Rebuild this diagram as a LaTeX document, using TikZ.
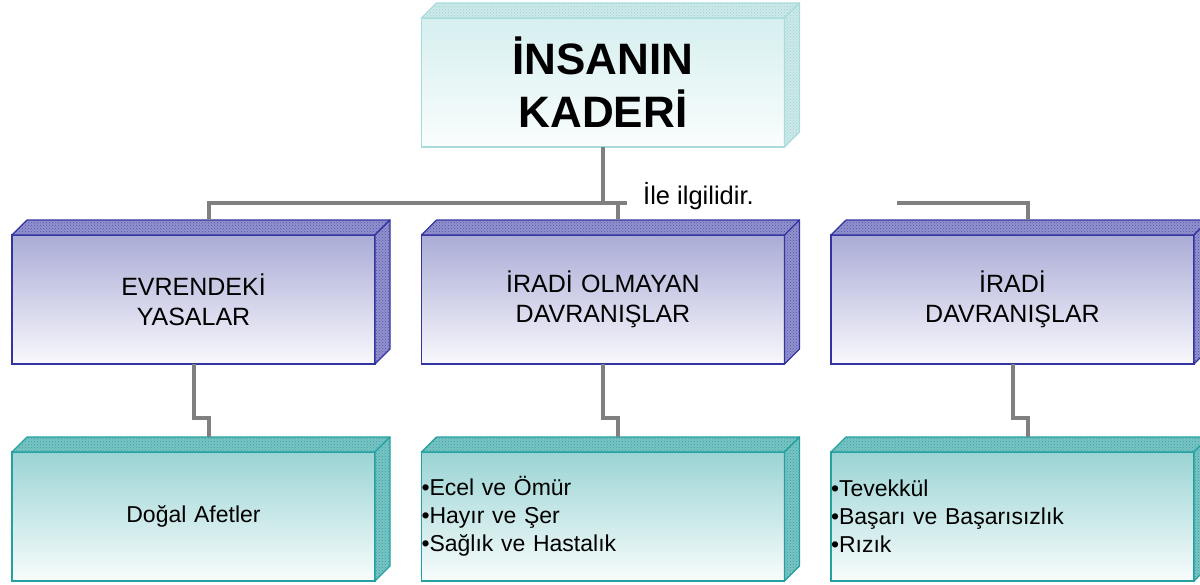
\documentclass[tikz,border=0pt]{standalone}
\usepackage{fontspec}
\setmainfont{Liberation Sans}
\usepackage{tikz}
\usetikzlibrary{calc,patterns}
\definecolor{ustkenar}{RGB}{168,220,220}
\definecolor{ustust}{RGB}{214,239,239}
\definecolor{ustalt}{RGB}{250,253,253}
\definecolor{ustyuz}{RGB}{205,234,234}
\definecolor{ustdesen}{RGB}{160,205,205}
\definecolor{ortakenar}{RGB}{52,52,160}
\definecolor{ortaust}{RGB}{170,172,214}
\definecolor{ortaalt}{RGB}{248,248,252}
\definecolor{ortayuz}{RGB}{146,146,206}
\definecolor{ortadesen}{RGB}{80,80,170}
\definecolor{altkenar}{RGB}{36,160,160}
\definecolor{altust}{RGB}{155,212,212}
\definecolor{altalt}{RGB}{248,252,252}
\definecolor{altyuz}{RGB}{120,196,196}
\definecolor{altdesen}{RGB}{60,160,160}
\definecolor{baggri}{RGB}{128,128,128}

\begin{document}
\begin{tikzpicture}[x=1pt,y=-1pt,
kutu/.style={line width=1.5pt,minimum width=363pt,minimum height=129pt,inner sep=0pt,outer sep=0pt,text width=363pt,align=center},
ustkutu/.style={kutu,draw=ustkenar,top color=ustust,bottom color=ustalt,font=\fontsize{44}{53}\selectfont\bfseries},
ortakutu/.style={kutu,draw=ortakenar,top color=ortaust,bottom color=ortaalt,font=\fontsize{25}{30}\selectfont},
altkutu/.style={kutu,draw=altkenar,top color=altust,bottom color=altalt,font=\fontsize{23}{28}\selectfont},
yuz/.style={draw=#1kenar,line width=1.2pt,line join=round,preaction={fill=#1yuz},pattern=crosshatch dots,pattern color=#1desen},
baglanti/.style={draw=baggri,line width=4pt}]
\useasboundingbox (0,0) rectangle (1200,584);
\clip (0,0) rectangle (1200,584);

\node[ustkutu] (kader) at (603,82.5) {İNSANIN\\KADERİ};
\node[ortakutu] (evren) at (193.5,299.5) {EVRENDEKİ\\YASALAR};
\node[ortakutu] (olmayan) at (603,299.5) {İRADİ OLMAYAN\\DAVRANIŞLAR};
\node[ortakutu] (iradi) at (1012.5,299.5) {İRADİ\\DAVRANIŞLAR};
\node[altkutu] (dogal) at (193.5,516.5) {Doğal Afetler};
\node[altkutu,align=left] (olmayanalt) at (603,516.5) {•Ecel ve Ömür\\•Hayır ve Şer\\•Sağlık ve Hastalık};
\node[altkutu,align=left] (iradialt) at (1012.5,516.5) {•Tevekkül\\•Başarı ve Başarısızlık\\•Rızık};
\node[anchor=base west,inner sep=0pt,font=\fontsize{25.5}{30}\selectfont] (ilgi) at (643,204) {İle ilgilidir.};

\foreach \k/\r in {kader/ust,evren/orta,olmayan/orta,iradi/orta,dogal/alt,olmayanalt/alt,iradialt/alt} {
\draw[yuz=\r] (\k.north west) -- ++(15,-15) -- ($(\k.north east)+(15,-15)$) -- (\k.north east) -- cycle;
\draw[yuz=\r] (\k.north east) -- ++(15,-15) -- ($(\k.south east)+(15,-15)$) -- (\k.south east) -- cycle;
\coordinate (\k-ust) at ($(\k.north)+(15,-15)$);
}

\coordinate (dal) at (603,203);
\coordinate (dalsag) at (627,203);
\coordinate (sagbas) at (897,203);
\draw[baglanti] (kader.south) -- (dal);
\draw[baglanti] (evren-ust) |- (dalsag);
\draw[baglanti] (olmayan-ust |- dal) -- (olmayan-ust);
\draw[baglanti] (sagbas) -| (iradi-ust);
\draw[baglanti] (evren.south) -- ++(0,54) -| (dogal-ust);
\draw[baglanti] (olmayan.south) -- ++(0,54) -| (olmayanalt-ust);
\draw[baglanti] (iradi.south) -- ++(0,54) -| (iradialt-ust);
\end{tikzpicture}
\end{document}
